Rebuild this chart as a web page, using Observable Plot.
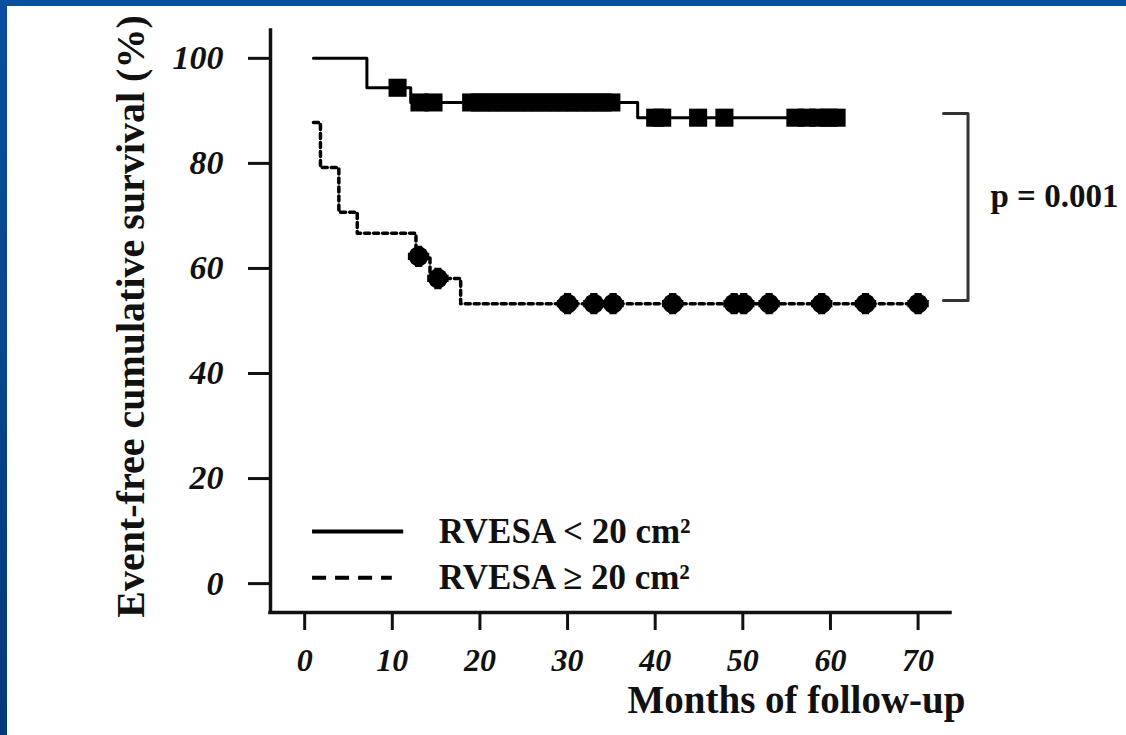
<!DOCTYPE html>
<html><head><meta charset="utf-8">
<script src="https://cdn.jsdelivr.net/npm/d3@7"></script>
<script src="https://cdn.jsdelivr.net/npm/@observablehq/plot@0.6"></script>
<style>
html,body{margin:0;padding:0;background:#fff;width:1126px;height:735px;overflow:hidden}
#wrap{position:relative;width:1126px;height:735px;background:#fff}
#topband{position:absolute;left:0;top:0;width:1126px;height:6px;background:#0a4f9e}
#leftband{position:absolute;left:0;top:0;width:7px;height:735px;background:linear-gradient(#0a4f9e,#043a78)}
#chart{position:absolute;left:0;top:0}
#chart svg{overflow:visible}
</style></head><body>
<div id="wrap"><div id="chart"></div><div id="topband"></div><div id="leftband"></div></div>
<script>
// Group RVESA < 20 cm² (solid): step times and survival (%)
const lowTimes = [1, 7.1, 12.1, 38, 60.7];
const lowSurv  = [100, 94.4, 91.6, 88.7, 88.7];
const lowCensor = [10.6, 13.1, 14.7, 19, 20, 21, 22, 23, 24, 25, 26, 27, 28, 29, 30, 31, 32, 33, 34, 35,
                   40, 40.8, 44.9, 47.9, 56, 57.3, 58.6, 59.8, 60.7];
// Group RVESA ≥ 20 cm² (dotted)
const highTimes = [1, 1.8, 3.9, 6.0, 12.7, 14.3, 17.8, 70];
const highSurv  = [87.8, 79.2, 70.7, 66.7, 62.3, 58.1, 53.3, 53.3];
const highCensor = [13, 15.2, 30, 33, 35.2, 42, 49, 50.1, 53, 59, 64, 70];

const yTicks = [0, 20, 40, 60, 80, 100];
const xTicks = [0, 10, 20, 30, 40, 50, 60, 70];
const legendLabels = ["RVESA < 20 cm²", "RVESA ≥ 20 cm²"];
const legendRowY = [9.9, 1.1];
const legendLineEnd = [11.3, 10.0];
const bracketX = [72.9, 75.7, 75.7, 72.9];
const bracketY = [89.5, 89.5, 53.9, 53.9];
const pLabel = "p = 0.001";
const yTitle = "Event-free cumulative survival (%)";
const xTitle = "Months of follow-up";

const xDomain = [-3.9, 73.7];
const yDomain = [-5.5, 105.3];

function survAt(times, surv, t) {
  let v = surv[0];
  for (let i = 0; i < times.length; i++) if (times[i] <= t) v = surv[i];
  return v;
}
const lowLine = lowTimes.map((t, i) => ({t, s: lowSurv[i]}));
const highLine = highTimes.map((t, i) => ({t, s: highSurv[i]}));
const lowC = lowCensor.map(t => ({t, s: survAt(lowTimes, lowSurv, t)}));
const highC = highCensor.map(t => ({t, s: survAt(highTimes, highSurv, t)}));
const bracket = bracketX.map((x, i) => ({x, y: bracketY[i]}));
const legend = legendLabels.map((label, i) => ({label, y: legendRowY[i], x2: legendLineEnd[i]}));

const serif = "'Liberation Serif', 'Times New Roman', Times, serif";
const ink = "#111";

const chart = Plot.plot({
  width: 1126, height: 735,
  marginLeft: 270, marginRight: 176, marginTop: 30, marginBottom: 123,
  x: {domain: xDomain},
  y: {domain: yDomain},
  style: {fontFamily: serif, color: ink, background: "transparent"},
  marks: [
    Plot.axisY({ticks: yTicks, tickSize: 22, tickPadding: 25, strokeWidth: 3, stroke: ink,
      fontSize: 34, fontWeight: "bold", fontStyle: "italic", fill: ink, label: null}),
    Plot.axisX({ticks: xTicks, tickSize: 18, tickPadding: 18, strokeWidth: 3, stroke: ink,
      fontSize: 32, fontWeight: "bold", fontStyle: "italic", fill: ink, label: null}),
    Plot.ruleX([xDomain[0]], {y1: yDomain[0], y2: yDomain[1], stroke: ink, strokeWidth: 3.5, strokeLinecap: "square"}),
    Plot.ruleY([yDomain[0]], {x1: xDomain[0], x2: xDomain[1], stroke: ink, strokeWidth: 3.5, strokeLinecap: "square"}),
    Plot.line(lowLine, {x: "t", y: "s", curve: "step-after", stroke: "#000", strokeWidth: 3}),
    Plot.line(highLine, {x: "t", y: "s", curve: "step-after", stroke: "#000", strokeWidth: 3.5, strokeDasharray: "5,4"}),
    Plot.dot(lowC, {x: "t", y: "s", symbol: "square", r: 10.2, fill: "#000", stroke: null}),
    Plot.dot(highC, {x: "t", y: "s", symbol: "circle", r: 10, fill: "#000", stroke: null}),
    Plot.dot(highC, {x: "t", y: "s", symbol: "cross", r: 9, fill: "#000", stroke: null}),
    Plot.line(bracket, {x: "x", y: "y", stroke: "#333", strokeWidth: 3}),
    Plot.ruleY(legend.slice(0, 1), {y: "y", x1: 0.9, x2: "x2", stroke: "#000", strokeWidth: 4}),
    Plot.ruleY(legend.slice(1), {y: "y", x1: 0.9, x2: "x2", stroke: "#000", strokeWidth: 4, strokeDasharray: "14,9"}),
    Plot.text(legend, {y: "y", x: 15.3, text: "label", textAnchor: "start", lineAnchor: "middle",
      fontSize: 35, fontWeight: "bold", fill: ink}),
    Plot.text([pLabel], {frameAnchor: "top-right", dx: 40, dy: 176, textAnchor: "start", lineAnchor: "bottom",
      fontSize: 33, fontWeight: "bold", fill: ink}),
    Plot.text([yTitle], {frameAnchor: "left", rotate: -90, dx: -127, dy: -5, textAnchor: "middle", lineAnchor: "bottom",
      fontSize: 40, fontWeight: "bold", fill: ink}),
    Plot.text([xTitle], {frameAnchor: "bottom-right", dx: 15, dy: 100, textAnchor: "end", lineAnchor: "bottom",
      fontSize: 39, fontWeight: "bold", fill: ink})
  ]
});
document.getElementById("chart").appendChild(chart);
</script>
</body></html>
